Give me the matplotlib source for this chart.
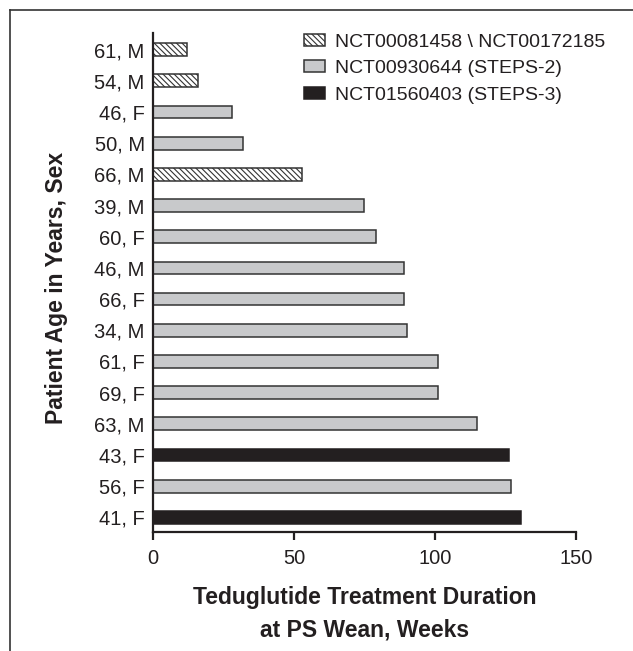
import matplotlib.pyplot as plt
from matplotlib.patches import Patch
from matplotlib.lines import Line2D

# patients listed top to bottom
patients = ["61, M", "54, M", "46, F", "50, M", "66, M", "39, M", "60, F", "46, M",
            "66, F", "34, M", "61, F", "69, F", "63, M", "43, F", "56, F", "41, F"]
weeks = [12, 16, 28, 32, 53, 75, 79, 89, 89, 90, 101, 101, 115, 126.5, 127, 130.5]
# 0 = NCT00081458 \ NCT00172185, 1 = STEPS-2, 2 = STEPS-3
study = [0, 0, 1, 1, 0, 1, 1, 1, 1, 1, 1, 1, 1, 2, 1, 2]
study_names = ["NCT00081458 \\ NCT00172185", "NCT00930644 (STEPS-2)", "NCT01560403 (STEPS-3)"]

dark = "#231f20"
styles = [dict(facecolor="white", hatch="\\\\\\\\\\\\", edgecolor="#333333"),
          dict(facecolor="#c8c9cb", hatch=None, edgecolor="#333333"),
          dict(facecolor=dark, hatch=None, edgecolor=dark)]

plt.rcParams["font.family"] = ["Liberation Sans", "DejaVu Sans"]
plt.rcParams["hatch.linewidth"] = 0.8
plt.rcParams["hatch.color"] = "#333333"

W, H = 633, 651
fig = plt.figure(figsize=(W / 100, H / 100), dpi=100)
ax = fig.add_axes([153 / W, (H - 532) / H, (575.7 - 153) / W, (532 - 33) / H])

n = len(patients)
ypos = [n - 1 - i for i in range(n)]
for y, w, s in zip(ypos, weeks, study):
    st = styles[s]
    ax.barh(y, w, height=0.41, color=st["facecolor"], edgecolor=st["edgecolor"],
            hatch=st["hatch"], linewidth=1.1)

ax.set_yticks(ypos)
ax.set_yticklabels(patients)
ax.set_ylim(-0.47, n - 1 + 0.535)
ax.set_xlim(0, 150)
ax.set_xticks([0, 50, 100, 150])

for side in ["top", "right"]:
    ax.spines[side].set_visible(False)
for side in ["left", "bottom"]:
    ax.spines[side].set_linewidth(1.6)
    ax.spines[side].set_color(dark)

ax.tick_params(axis="y", length=0, pad=6, labelsize=14.5, labelcolor=dark)
ax.tick_params(axis="x", length=6, width=1.6, color=dark, pad=6, labelsize=14.5, labelcolor=dark)

ax.set_xlabel("Teduglutide Treatment Duration\nat PS Wean, Weeks", fontsize=16.5,
              fontweight="bold", color=dark, linespacing=1.55)
ax.xaxis.set_label_coords(0.5, -0.108)
ax.set_ylabel("Patient Age in Years, Sex", fontsize=16.5, fontweight="bold", color=dark)
ax.yaxis.set_label_coords(-0.2, 0.489)

handles = [Patch(facecolor=st["facecolor"], edgecolor=st["edgecolor"], hatch=st["hatch"],
                 linewidth=1.1) for st in styles]
fig.legend(handles, study_names, loc="upper left", bbox_to_anchor=(304 / W, 1 - 34 / H),
           frameon=False, fontsize=14, handlelength=1.08, handleheight=0.57,
           handletextpad=0.5, labelspacing=0.48, borderpad=0, borderaxespad=0,
           labelcolor=dark)

# partial frame around the figure
fig.add_artist(Line2D([10 / W, 1], [1 - 10 / H, 1 - 10 / H], color="#333333", lw=1.2))
fig.add_artist(Line2D([10 / W, 10 / W], [0, 1 - 10 / H], color="#333333", lw=1.2))

fig.savefig("out.png", dpi=100)
